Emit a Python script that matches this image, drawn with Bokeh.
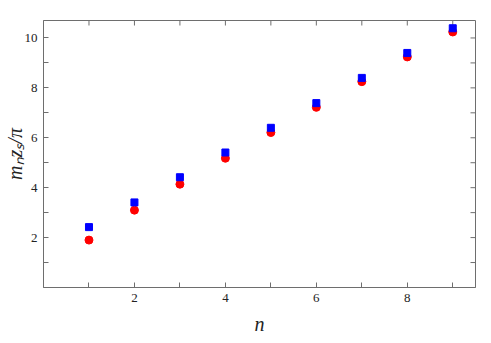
from bokeh.plotting import figure
from bokeh.models import LinearAxis, FixedTicker, Range1d, ColumnDataSource
from bokeh.embed import file_html
from bokeh.resources import INLINE

n_vals = [1, 2, 3, 4, 5, 6, 7, 8, 9]
red_vals = [1.90, 3.10, 4.14, 5.18, 6.21, 7.22, 8.25, 9.24, 10.24]
blue_vals = [2.42, 3.41, 4.42, 5.41, 6.40, 7.39, 8.40, 9.40, 10.39]

x_major = [2, 4, 6, 8]
x_minor = [1, 3, 5, 7, 9]
y_major = [2, 4, 6, 8, 10]
y_minor = [1, 3, 5, 7, 9]

X0, X1 = 0, 9.5
Y0, Y1 = 0, 10.7
FW, FH = 432, 267
TICK_PX = 5

FONT = "Liberation Serif"
AXC = "#6e6e6e"
TXT = "#222222"

p = figure(output_backend="svg", toolbar_location=None,
           frame_width=FW, frame_height=FH,
           x_range=Range1d(X0, X1), y_range=Range1d(Y0, Y1),
           min_border_left=34, min_border_top=20, min_border_right=8,
           min_border_bottom=40, x_axis_location=None, y_axis_location=None)
p.background_fill_color = "white"
p.border_fill_color = "white"
p.outline_line_color = AXC
p.grid.visible = False

def style(ax, ticks, minor):
    ax.ticker = FixedTicker(ticks=ticks, minor_ticks=minor)
    ax.axis_line_color = AXC
    ax.major_tick_line_color = AXC
    ax.minor_tick_line_color = AXC
    ax.major_tick_in = TICK_PX
    ax.major_tick_out = 0
    ax.minor_tick_in = TICK_PX
    ax.minor_tick_out = 0
    ax.major_label_text_font = FONT
    ax.major_label_text_font_size = "13px"
    ax.major_label_text_color = TXT
    ax.major_label_standoff = 6

xb = LinearAxis()
style(xb, x_major, x_minor)
xb.axis_label = "n"
xb.axis_label_text_font = FONT
xb.axis_label_text_font_style = "italic"
xb.axis_label_text_font_size = "20px"
xb.axis_label_text_color = TXT
xb.axis_label_standoff = 8
p.add_layout(xb, "below")

yl = LinearAxis()
style(yl, y_major, y_minor)
yl.axis_label = "mₙzₛ/π"
yl.axis_label_text_font = FONT
yl.axis_label_text_font_style = "italic"
yl.axis_label_text_font_size = "20px"
yl.axis_label_text_color = TXT
yl.axis_label_standoff = -4
p.add_layout(yl, "left")

# mirrored ticks along the top and right frame edges
xt = x_major + x_minor
yt = y_major + y_minor
dy = TICK_PX * (Y1 - Y0) / FH
dx = TICK_PX * (X1 - X0) / FW
p.segment(x0=xt, y0=[Y1] * len(xt), x1=xt, y1=[Y1 - dy] * len(xt),
          line_color=AXC, line_width=1)
p.segment(x0=[X1] * len(yt), y0=yt, x1=[X1 - dx] * len(yt), y1=yt,
          line_color=AXC, line_width=1)

src = ColumnDataSource(dict(n=n_vals, r=red_vals, b=blue_vals))
p.scatter("n", "r", source=src, marker="circle", size=8, color="#ff0000")
p.scatter("n", "b", source=src, marker="square", size=7, color="#0000ff")

open("out.html", "w").write(file_html(p, INLINE))
